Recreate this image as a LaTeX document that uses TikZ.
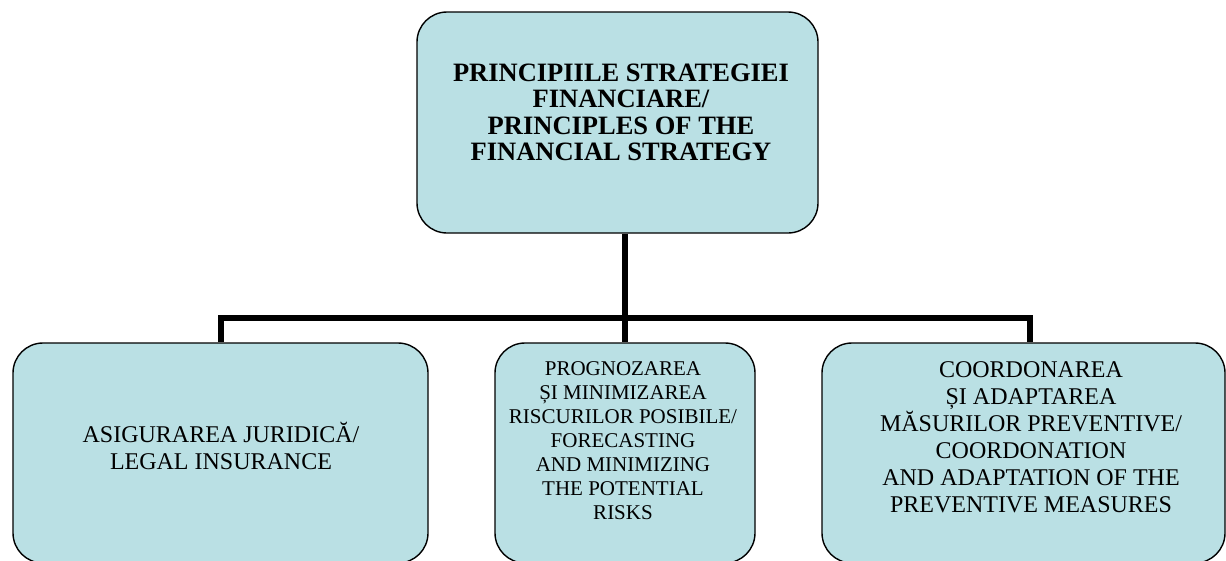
\documentclass[tikz,border=0pt]{standalone}
\usepackage{fontspec}
\setmainfont{Liberation Serif}
\usetikzlibrary{positioning}
\definecolor{boxblue}{RGB}{186,224,228}

\begin{document}
\begin{tikzpicture}[x=1pt,y=-1pt,
  box/.style={draw=black, line width=1.4pt, fill=boxblue, rounded corners=30pt, inner sep=0pt},
  conn/.style={line width=6pt},
  lbl/.style={align=center, inner sep=0pt}]
\useasboundingbox (0,0) rectangle (1226,560);

%Kasten oben
\node[box, minimum width=401pt, minimum height=221pt] (top) at (617.5,122.5) {};
\node[lbl, font=\bfseries\fontsize{26.5}{26.4}\selectfont] (ttop) at (621,112.5)
  {PRINCIPIILE STRATEGIEI\\ FINANCIARE/\\ PRINCIPLES OF THE\\ FINANCIAL STRATEGY};

%Kaesten unten
\node[box, minimum width=415pt, minimum height=220pt] (left) at (220.5,453) {};
\node[box, minimum width=260pt, minimum height=220pt] (mid) at (625,453) {};
\node[box, minimum width=403pt, minimum height=220pt] (right) at (1023.5,453) {};

\node[lbl, font=\fontsize{24}{27}\selectfont] (tleft) at (221,446)
  {ASIGURAREA JURIDICĂ/\\ LEGAL INSURANCE};
\node[lbl, font=\fontsize{21}{24}\selectfont] (tmid) at (623,441)
  {PROGNOZAREA\\ ȘI MINIMIZAREA\\ RISCURILOR POSIBILE/\\ FORECASTING\\ AND MINIMIZING\\ THE POTENTIAL\\ RISKS};
\node[lbl, font=\fontsize{24}{27}\selectfont] (tright) at (1031,437)
  {COORDONAREA\\ ȘI ADAPTAREA\\ MĂSURILOR PREVENTIVE/\\ COORDONATION\\ AND ADAPTATION OF THE\\ PREVENTIVE MEASURES};

%Verbindungen
\coordinate (hub) at (625,318);
\draw[conn] (top.south -| mid.north) -- (mid.north);
\draw[conn] (left.north) |- (hub) -| ([xshift=6.5pt]right.north);

\end{tikzpicture}
\end{document}
